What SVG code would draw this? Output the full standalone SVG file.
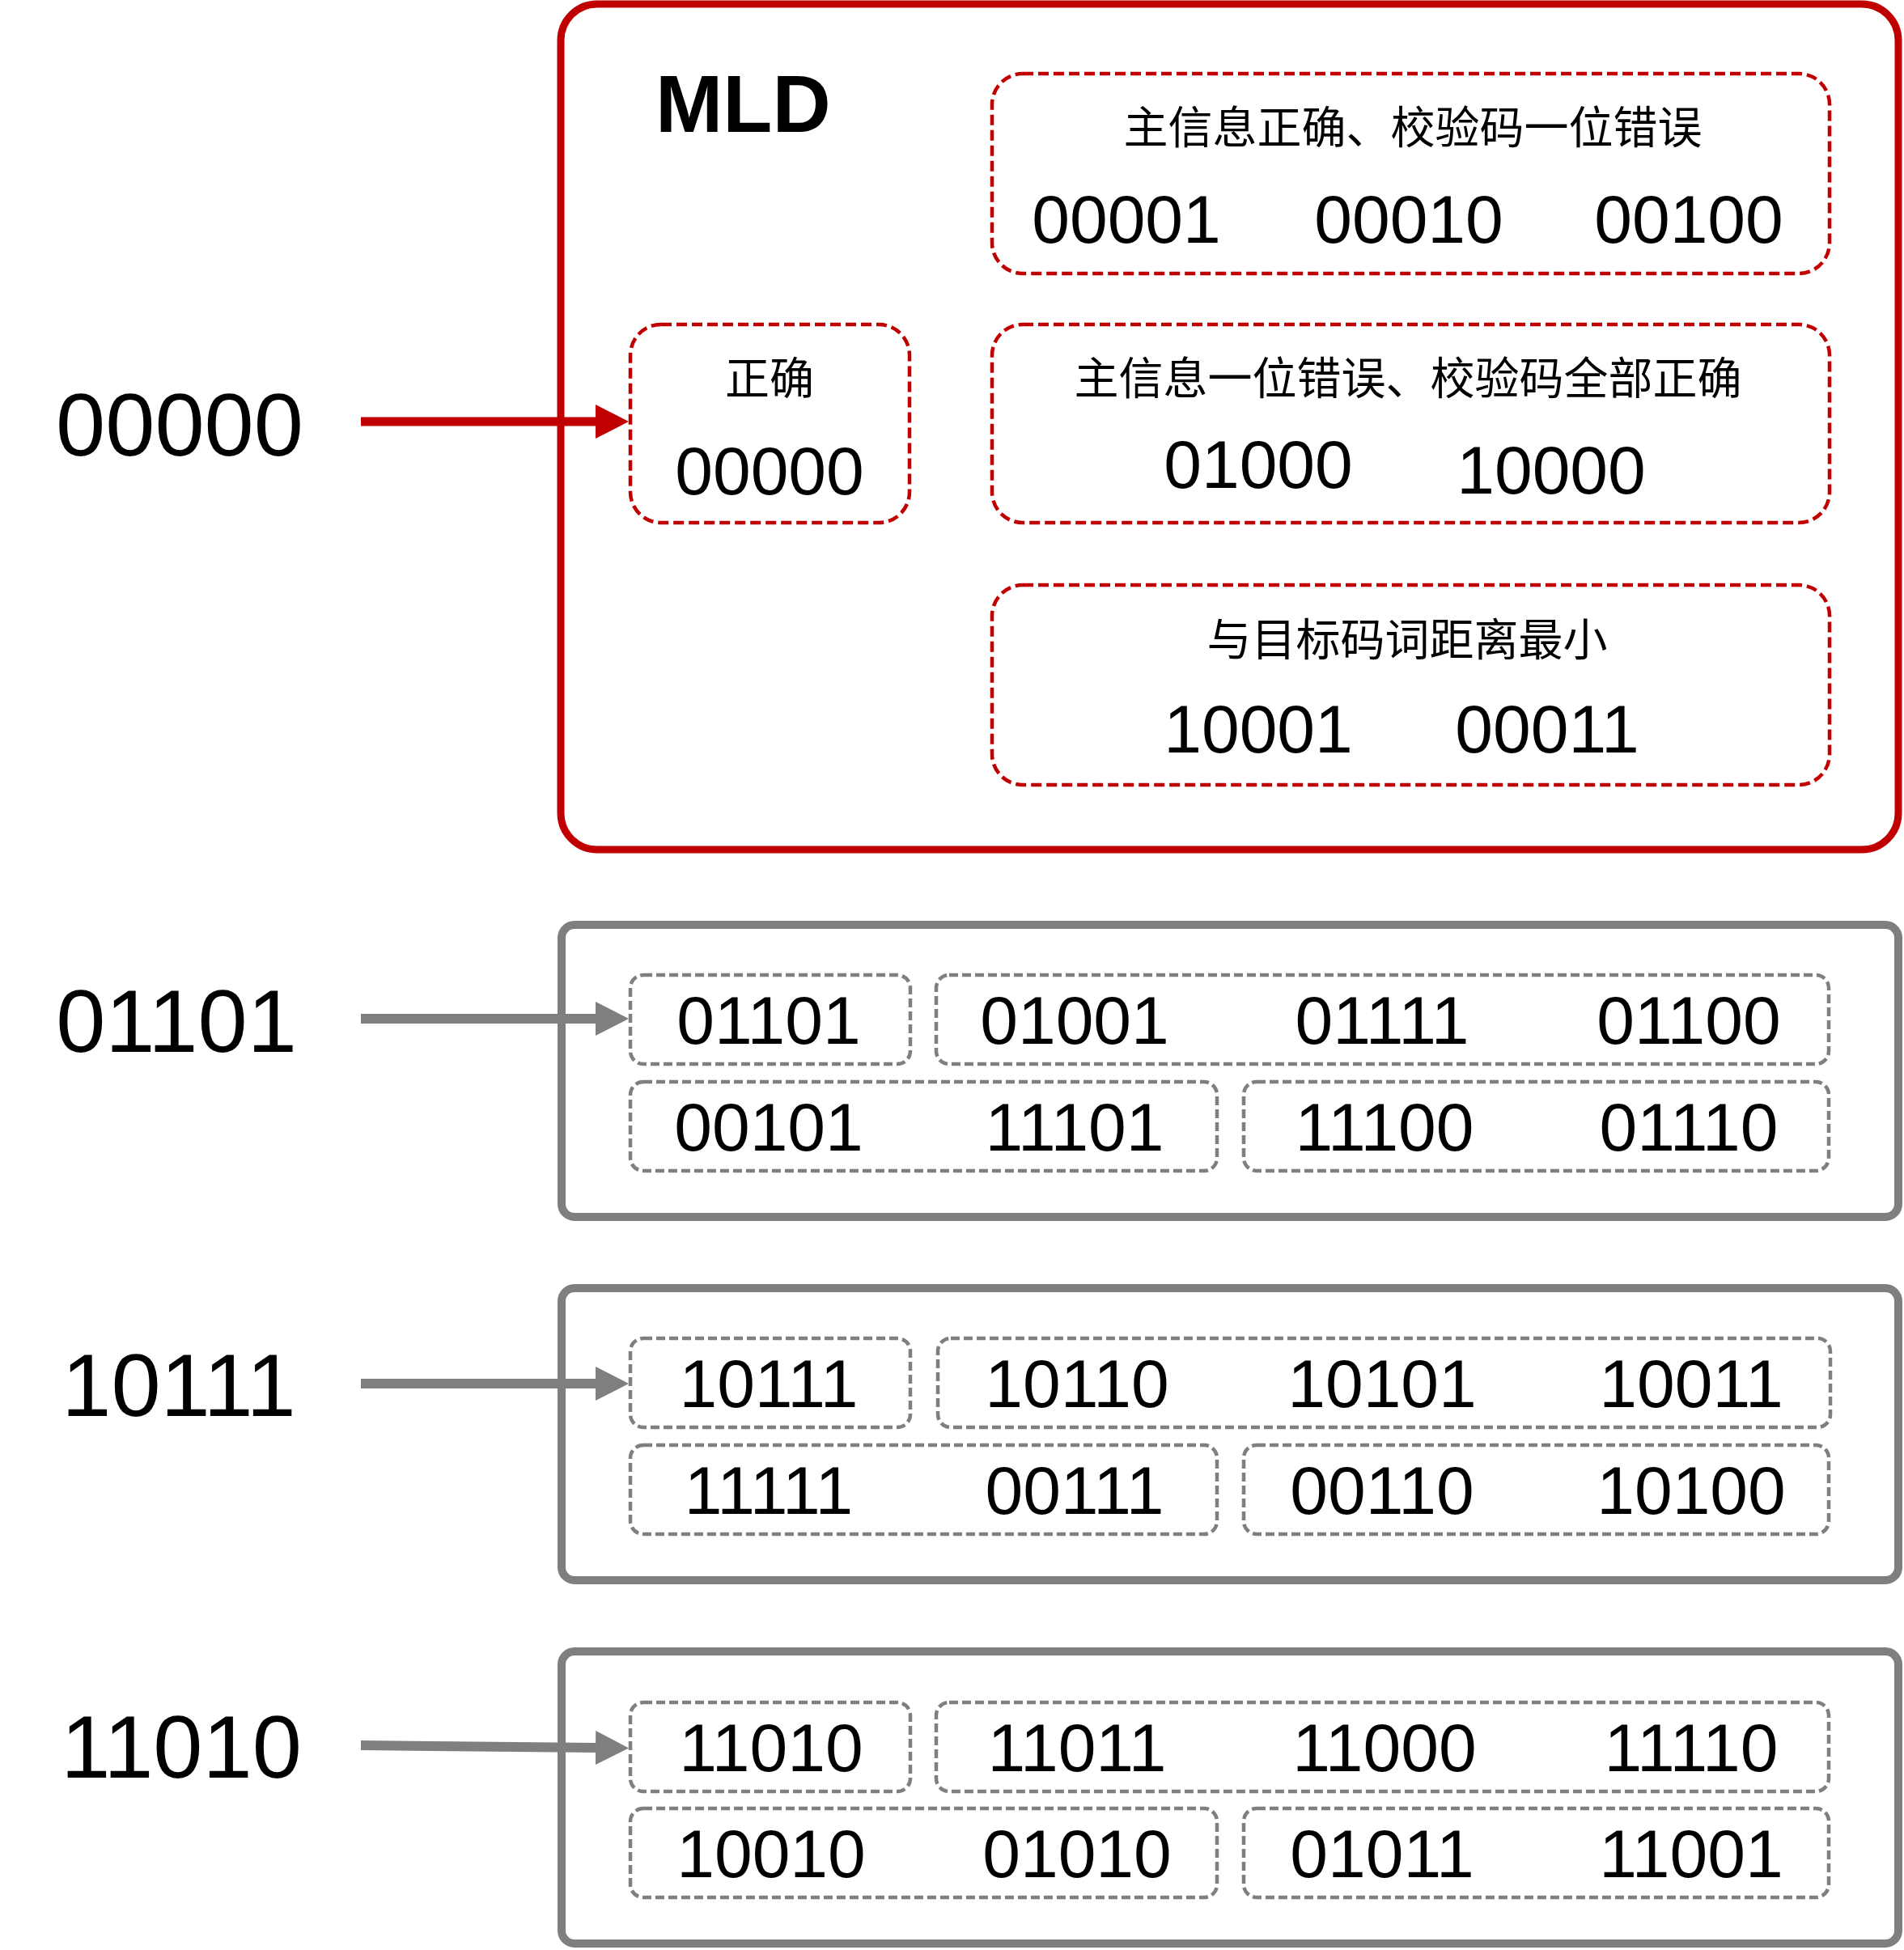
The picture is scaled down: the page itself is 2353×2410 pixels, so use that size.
<svg xmlns="http://www.w3.org/2000/svg" width="2353" height="2410" viewBox="0 0 2353 2410">
<defs>
<style>
.bg{fill:#ffffff}
.redbox{fill:none;stroke:#c00000;stroke-width:9}
.graybox{fill:none;stroke:#7f7f7f;stroke-width:10}
.reddash{fill:none;stroke:#c00000;stroke-width:4.5;stroke-dasharray:13 6}
.graydash{fill:none;stroke:#7f7f7f;stroke-width:4.5;stroke-dasharray:11 5}
.num{font-family:"Liberation Sans",Arial,sans-serif;font-size:84px;fill:#000;text-anchor:middle}
.big{font-family:"Liberation Sans",Arial,sans-serif;font-size:110px;fill:#000;text-anchor:middle}
.cjk{font-family:"Noto Sans CJK SC","Noto Sans",sans-serif;font-size:55px;fill:#000;text-anchor:middle}
.title{font-family:"Liberation Sans",Arial,sans-serif;font-size:100px;font-weight:bold;fill:#000}
.redline{fill:none;stroke:#c00000;stroke-width:11}
.grayline{fill:none;stroke:#7f7f7f;stroke-width:12}
</style>
<marker id="arrRed" markerUnits="userSpaceOnUse" markerWidth="42" markerHeight="42" refX="0" refY="21" orient="auto">
<polygon points="0,0 41,21 0,42" fill="#c00000"/>
</marker>
<marker id="arrGray" markerUnits="userSpaceOnUse" markerWidth="42" markerHeight="42" refX="0" refY="21" orient="auto">
<polygon points="0,0 41,21 0,42" fill="#7f7f7f"/>
</marker>
</defs>
<rect class="bg" x="0" y="0" width="2353" height="2410"/>

<g id="input-00000"><text class="big" x="222" y="563">00000</text></g>
<g id="input-01101"><text class="big" x="218" y="1300">01101</text></g>
<g id="input-10111"><text class="big" x="221" y="1750">10111</text></g>
<g id="input-11010"><text class="big" x="224" y="2197">11010</text></g>

<g id="mld">
<rect class="redbox" x="693" y="5" width="1653" height="1045" rx="45" ry="45"/>
<text class="title" x="810" y="163">MLD</text>
</g>

<g id="correct">
<rect class="reddash" x="779" y="401" width="345" height="245" rx="38" ry="38"/>
<text class="cjk" x="951" y="487">正确</text>
<text class="num" x="951" y="611">00000</text>
</g>

<g id="check-error">
<rect class="reddash" x="1226" y="91" width="1035" height="247" rx="38" ry="38"/>
<text class="cjk" x="1746" y="177">主信息正确、校验码一位错误</text>
<text class="num" x="1392" y="300">00001</text>
<text class="num" x="1741" y="300">00010</text>
<text class="num" x="2087" y="300">00100</text>
</g>

<g id="info-error">
<rect class="reddash" x="1226" y="401" width="1035" height="245" rx="38" ry="38"/>
<text class="cjk" x="1740" y="487">主信息一位错误、校验码全部正确</text>
<text class="num" x="1555" y="603">01000</text>
<text class="num" x="1917" y="610">10000</text>
</g>

<g id="min-distance">
<rect class="reddash" x="1226" y="723" width="1035" height="247" rx="38" ry="38"/>
<text class="cjk" x="1739" y="810">与目标码词距离最小</text>
<text class="num" x="1555" y="930">10001</text>
<text class="num" x="1912" y="930">00011</text>
</g>

<g id="group-01101">
<rect class="graybox" x="694" y="1143" width="1652" height="361" rx="16" ry="16"/>
<rect class="graydash" x="779" y="1205" width="346" height="110" rx="16" ry="16"/>
<rect class="graydash" x="1157" y="1205" width="1103" height="110" rx="16" ry="16"/>
<rect class="graydash" x="779" y="1337" width="725" height="110" rx="16" ry="16"/>
<rect class="graydash" x="1537" y="1337" width="723" height="110" rx="16" ry="16"/>
<text class="num" x="950" y="1290">01101</text>
<text class="num" x="1328" y="1290">01001</text>
<text class="num" x="1708" y="1290">01111</text>
<text class="num" x="2087" y="1290">01100</text>
<text class="num" x="950" y="1422">00101</text>
<text class="num" x="1328" y="1422">11101</text>
<text class="num" x="1711" y="1422">11100</text>
<text class="num" x="2087" y="1422">01110</text>
</g>

<g id="group-10111">
<rect class="graybox" x="694" y="1592" width="1652" height="361" rx="16" ry="16"/>
<rect class="graydash" x="779" y="1654" width="346" height="110" rx="16" ry="16"/>
<rect class="graydash" x="1159" y="1654" width="1103" height="110" rx="16" ry="16"/>
<rect class="graydash" x="779" y="1786" width="725" height="110" rx="16" ry="16"/>
<rect class="graydash" x="1537" y="1786" width="723" height="110" rx="16" ry="16"/>
<text class="num" x="950" y="1739">10111</text>
<text class="num" x="1331" y="1739">10110</text>
<text class="num" x="1708" y="1739">10101</text>
<text class="num" x="2090" y="1739">10011</text>
<text class="num" x="950" y="1871">11111</text>
<text class="num" x="1328" y="1871">00111</text>
<text class="num" x="1708" y="1871">00110</text>
<text class="num" x="2090" y="1871">10100</text>
</g>

<g id="group-11010">
<rect class="graybox" x="694" y="2041" width="1652" height="361" rx="16" ry="16"/>
<rect class="graydash" x="779" y="2104" width="346" height="110" rx="16" ry="16"/>
<rect class="graydash" x="1157" y="2104" width="1103" height="110" rx="16" ry="16"/>
<rect class="graydash" x="779" y="2235" width="725" height="110" rx="16" ry="16"/>
<rect class="graydash" x="1537" y="2235" width="723" height="110" rx="16" ry="16"/>
<text class="num" x="953" y="2189">11010</text>
<text class="num" x="1331" y="2189">11011</text>
<text class="num" x="1711" y="2189">11000</text>
<text class="num" x="2090" y="2189">11110</text>
<text class="num" x="953" y="2320">10010</text>
<text class="num" x="1331" y="2320">01010</text>
<text class="num" x="1708" y="2320">01011</text>
<text class="num" x="2090" y="2320">11001</text>
</g>

<g id="connectors">
<path class="redline" d="M446 521 H736" marker-end="url(#arrRed)"/>
<path class="grayline" d="M446 1259 H736" marker-end="url(#arrGray)"/>
<path class="grayline" d="M446 1710 H736" marker-end="url(#arrGray)"/>
<path class="grayline" d="M446 2157 L736 2160" marker-end="url(#arrGray)"/>
</g>
</svg>
